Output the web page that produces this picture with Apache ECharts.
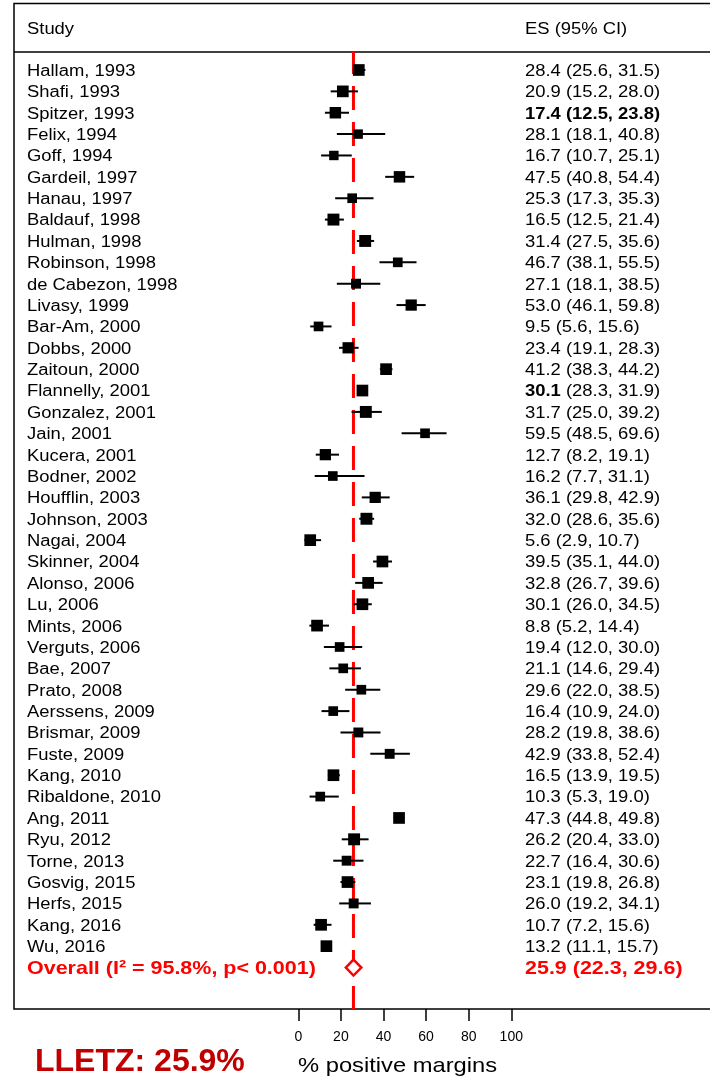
<!DOCTYPE html>
<html><head><meta charset="utf-8">
<script src="https://cdn.jsdelivr.net/npm/echarts@6/dist/echarts.min.js"></script>
<style>html,body{margin:0;padding:0;background:#fff}#c{width:710px;height:1078px}</style>
</head><body><div id="c"></div>
<script>
const studies = ["Hallam, 1993","Shafi, 1993","Spitzer, 1993","Felix, 1994","Goff, 1994","Gardeil, 1997","Hanau, 1997","Baldauf, 1998","Hulman, 1998","Robinson, 1998","de Cabezon, 1998","Livasy, 1999","Bar-Am, 2000","Dobbs, 2000","Zaitoun, 2000","Flannelly, 2001","Gonzalez, 2001","Jain, 2001","Kucera, 2001","Bodner, 2002","Houfflin, 2003","Johnson, 2003","Nagai, 2004","Skinner, 2004","Alonso, 2006","Lu, 2006","Mints, 2006","Verguts, 2006","Bae, 2007","Prato, 2008","Aerssens, 2009","Brismar, 2009","Fuste, 2009","Kang, 2010","Ribaldone, 2010","Ang, 2011","Ryu, 2012","Torne, 2013","Gosvig, 2015","Herfs, 2015","Kang, 2016","Wu, 2016"];
const es = [28.4,20.9,17.4,28.1,16.7,47.5,25.3,16.5,31.4,46.7,27.1,53.0,9.5,23.4,41.2,30.1,31.7,59.5,12.7,16.2,36.1,32.0,5.6,39.5,32.8,30.1,8.8,19.4,21.1,29.6,16.4,28.2,42.9,16.5,10.3,47.3,26.2,22.7,23.1,26.0,10.7,13.2];
const lo = [25.6,15.2,12.5,18.1,10.7,40.8,17.3,12.5,27.5,38.1,18.1,46.1,5.6,19.1,38.3,28.3,25.0,48.5,8.2,7.7,29.8,28.6,2.9,35.1,26.7,26.0,5.2,12.0,14.6,22.0,10.9,19.8,33.8,13.9,5.3,44.8,20.4,16.4,19.8,19.2,7.2,11.1];
const hi = [31.5,28.0,23.8,40.8,25.1,54.4,35.3,21.4,35.6,55.5,38.5,59.8,15.6,28.3,44.2,31.9,39.2,69.6,19.1,31.1,42.9,35.6,10.7,44.0,39.6,34.5,14.4,30.0,29.4,38.5,24.0,38.6,52.4,19.5,19.0,49.8,33.0,30.6,26.8,34.1,15.6,15.7];
// relative study weights
const weights = [2.6,2.6,2.55,2.1,2.1,2.55,2.15,2.65,2.65,2.15,2.2,2.5,2.15,2.5,2.6,2.6,2.65,2.15,2.5,2.15,2.5,2.65,2.6,2.6,2.6,2.6,2.6,2.15,2.15,2.15,2.15,2.2,2.2,2.6,2.15,2.6,2.65,2.2,2.6,2.2,2.6,2.6];
const boldRows = ["Spitzer, 1993"];
const boldEsOnly = ["Flannelly, 2001"];
const overall = {label: "Overall (I\u00B2 = 95.8%, p< 0.001)", es: 25.9, lo: 22.3, hi: 29.6};
const xTicks = [0,20,40,60,80,100];
const headers = ["Study", "ES (95% CI)"];
const xTitle = "% positive margins";
const note = "LLETZ: 25.9%";

const FONT = "'Liberation Sans', Arial, Helvetica, sans-serif";
const SX = 1.15;
const DY = 1.5;
const fmt = v => v.toFixed(1);
const nRows = studies.length;
const yMin = -0.842, yMax = 43.94;

const rows = studies.map((s, i) => [es[i], i, lo[i], hi[i], weights[i]]);

const chart = echarts.init(document.getElementById('c'), null, {renderer: 'canvas'});
chart.setOption({
  animation: false,
  grid: {left: 298.3, right: 198.7, top: 52, bottom: 69},
  xAxis: {type: 'value', position: 'bottom', min: xTicks[0], max: xTicks[xTicks.length-1], interval: 20,
    axisLine: {show: false, onZero: false}, splitLine: {show: false},
    axisTick: {show: true, length: 12, lineStyle: {color: '#000', width: 1.5}},
    axisLabel: {color: '#000', fontSize: 14, fontFamily: FONT, margin: 21}},
  yAxis: {type: 'value', inverse: true, min: yMin, max: yMax, show: false},
  graphic: [
    {type: 'rect', shape: {x: 14, y: 3.5, width: 720, height: 1005.5}, style: {fill: 'none', stroke: '#000', lineWidth: 1.5}, z: 1},
    {type: 'line', shape: {x1: 14, y1: 52, x2: 720, y2: 52}, style: {stroke: '#000', lineWidth: 1.5}, z: 1},
    {type: 'text', x: 27, y: 28 + DY, scaleX: SX, style: {text: headers[0], font: '16px ' + FONT, fill: '#000', verticalAlign: 'middle'}},
    {type: 'text', x: 525, y: 28 + DY, scaleX: SX, style: {text: headers[1], font: '16px ' + FONT, fill: '#000', verticalAlign: 'middle'}},
    {type: 'text', x: 298, y: 1066, scaleX: 1.13, style: {text: xTitle, font: '21px ' + FONT, fill: '#000', verticalAlign: 'middle'}},
    {type: 'text', x: 35, y: 1062, style: {text: note, font: 'bold 32px ' + FONT, fill: '#c00000', verticalAlign: 'middle'}}
  ],
  series: [
    {type: 'custom', z: 2, silent: true, clip: false, data: [[overall.es, 0]],
      renderItem: (p, api) => {
        const a = api.coord([api.value(0), yMin]);
        const b = api.coord([api.value(0), yMax]);
        return {type: 'line', shape: {x1: a[0], y1: a[1], x2: b[0], y2: b[1]},
          style: {stroke: '#ff0000', lineWidth: 3, lineDash: [24, 12], lineDashOffset: 2}};
      }},
    {type: 'custom', z: 3, silent: true, clip: false, data: rows,
      renderItem: (p, api) => {
        const i = api.value(1);
        const c = api.coord([api.value(0), i]);
        const l = api.coord([api.value(2), i]);
        const h = api.coord([api.value(3), i]);
        const s = api.value(4) * 4.5;
        const name = studies[i];
        const bold = boldRows.includes(name);
        let txt = fmt(es[i]) + ' (' + fmt(lo[i]) + ', ' + fmt(hi[i]) + ')';
        let rich = undefined;
        if (boldEsOnly.includes(name)) {
          txt = '{b|' + fmt(es[i]) + '} (' + fmt(lo[i]) + ', ' + fmt(hi[i]) + ')';
          rich = {b: {fontWeight: 'bold', fontSize: 16, fontFamily: FONT}};
        }
        return {type: 'group', children: [
          {type: 'line', shape: {x1: l[0], y1: c[1], x2: h[0], y2: c[1]}, style: {stroke: '#000', lineWidth: 2}},
          {type: 'rect', shape: {x: c[0] - s/2, y: c[1] - s/2, width: s, height: s}, style: {fill: '#000'}},
          {type: 'text', x: 27, y: c[1] + DY, scaleX: SX, style: {text: name, font: '16px ' + FONT, fill: '#000', verticalAlign: 'middle'}},
          {type: 'text', x: 525, y: c[1] + DY, scaleX: SX, style: {text: txt, rich: rich, font: (bold ? 'bold ' : '') + '16px ' + FONT, fill: '#000', verticalAlign: 'middle'}}
        ]};
      }},
    {type: 'custom', z: 4, silent: true, clip: false, data: [[overall.es, nRows, overall.lo, overall.hi]],
      renderItem: (p, api) => {
        const i = api.value(1);
        const c = api.coord([api.value(0), i]);
        const l = api.coord([api.value(2), i]);
        const h = api.coord([api.value(3), i]);
        const hh = 8;
        return {type: 'group', children: [
          {type: 'polygon', shape: {points: [[l[0], c[1]], [c[0], c[1]-hh], [h[0], c[1]], [c[0], c[1]+hh]]}, style: {fill: '#fff', stroke: '#ff0000', lineWidth: 2.5}},
          {type: 'text', x: 27, y: c[1] + DY, scaleX: 1.13, style: {text: overall.label, font: 'bold 19px ' + FONT, fill: '#ff0000', verticalAlign: 'middle'}},
          {type: 'text', x: 525, y: c[1] + DY, scaleX: 1.13, style: {text: fmt(overall.es) + ' (' + fmt(overall.lo) + ', ' + fmt(overall.hi) + ')', font: 'bold 19px ' + FONT, fill: '#ff0000', verticalAlign: 'middle'}}
        ]};
      }}
  ]
});
</script></body></html>
